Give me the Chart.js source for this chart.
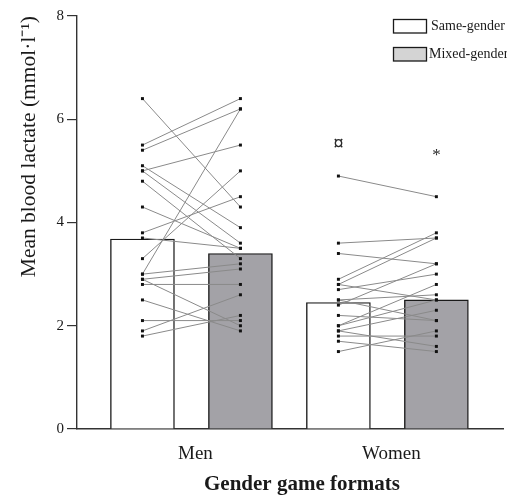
<!DOCTYPE html>
<html>
<head>
<meta charset="utf-8">
<script src="https://cdn.jsdelivr.net/npm/chart.js@4/dist/chart.umd.min.js"></script>
<style>
  html, body { margin: 0; padding: 0; background: #ffffff; }
  #wrap { position: relative; width: 507px; height: 496px; }
</style>
</head>
<body>
<div id="wrap"><canvas id="chart"></canvas></div>
<script>
// Game formats on the x axis
const categories = ['Men', 'Women'];

// Group means (mmol·l⁻¹)
const meanSameGender  = [3.68, 2.45];
const meanMixedGender = [3.40, 2.50];

// Individual players: same-gender value paired with mixed-gender value (same index)
const menSame    = [6.4, 5.5, 5.4, 5.1, 5.0, 5.0, 4.8, 4.3, 3.8, 3.7, 3.3, 3.0, 2.9, 2.9, 2.8, 2.5, 2.1, 1.9, 1.8, 3.0];
const menMixed   = [4.3, 6.4, 6.2, 3.9, 5.5, 3.6, 3.3, 3.5, 4.5, 3.5, 5.0, 3.2, 3.1, 2.0, 2.8, 1.9, 2.1, 2.6, 2.2, 6.2];
const womenSame  = [4.9, 3.6, 3.4, 2.9, 2.8, 2.8, 2.7, 2.5, 2.4, 2.5, 2.2, 2.0, 1.9, 1.8, 1.9, 1.7, 1.5, 2.0];
const womenMixed = [4.5, 3.7, 3.2, 3.8, 2.5, 3.7, 3.0, 2.1, 3.2, 2.6, 2.1, 2.8, 2.3, 1.8, 1.6, 1.5, 1.9, 2.5];

// Y-axis ticks
const yTicks = [0, 2, 4, 6, 8];

// Significance markers: symbol, category index, series ('same' | 'mixed'), height in axis units
const markers = [
  { text: '¤', cat: 1, series: 'same',  y: 5.5 },
  { text: '*', cat: 1, series: 'mixed', y: 5.3 }
];

const seriesNames = ['Same-gender', 'Mixed-gender'];
const xTitle = 'Gender game formats';

// ---- styling / layout ----
const SERIF = "'Liberation Serif', 'Times New Roman', serif";
const SHIFT = 0.25;                 // half distance between paired bars, in category units
const BAR_FILL_MIXED = '#a3a2a7';
const LEGEND_FILL_MIXED = '#d4d4d4';
const INK = '#1a1a1a';

Chart.defaults.font.family = SERIF;
Chart.defaults.color = INK;

const xOf = (cat, series) => cat + 1 + (series === 'same' ? -SHIFT : SHIFT);

const barSets = [
  {
    type: 'bar',
    label: seriesNames[0],
    data: meanSameGender.map((v, i) => ({ x: xOf(i, 'same'), y: v })),
    backgroundColor: '#ffffff',
    legendFill: '#ffffff',
    borderColor: INK,
    borderWidth: 1.4,
    order: 2
  },
  {
    type: 'bar',
    label: seriesNames[1],
    data: meanMixedGender.map((v, i) => ({ x: xOf(i, 'mixed'), y: v })),
    backgroundColor: BAR_FILL_MIXED,
    legendFill: LEGEND_FILL_MIXED,
    borderColor: INK,
    borderWidth: 1.4,
    order: 2
  }
];

// One thin line per player joining the two formats
const pairSets = [];
[[menSame, menMixed], [womenSame, womenMixed]].forEach(([a, b], cat) => {
  a.forEach((v, k) => {
    pairSets.push({
      type: 'line',
      label: '',
      isPair: true,
      data: [{ x: xOf(cat, 'same'), y: v }, { x: xOf(cat, 'mixed'), y: b[k] }],
      borderColor: '#8a8a8a',
      borderWidth: 1,
      pointStyle: 'rect',
      pointRadius: 2.1,
      pointBackgroundColor: '#111111',
      pointBorderWidth: 0,
      fill: false,
      tension: 0,
      order: 1
    });
  });
});

// Legend box in the upper right corner
const legendBox = {
  id: 'legendBox',
  afterDraw(chart) {
    const ctx = chart.ctx;
    ctx.save();
    ctx.font = '14px ' + SERIF;
    ctx.textBaseline = 'middle';
    ctx.textAlign = 'left';
    chart.data.datasets.filter(d => !d.isPair).forEach((d, i) => {
      const top = 19.5 + i * 28;
      ctx.fillStyle = d.legendFill;
      ctx.fillRect(393.5, top, 33, 13.5);
      ctx.strokeStyle = INK;
      ctx.lineWidth = 1.3;
      ctx.strokeRect(393.5, top, 33, 13.5);
      ctx.fillStyle = INK;
      ctx.fillText(d.label, 431 - i * 2, top + 7);
    });
    ctx.restore();
  }
};

// Significance symbols above the bars
const markerText = {
  id: 'markerText',
  afterDatasetsDraw(chart) {
    const ctx = chart.ctx;
    const xs = chart.scales.x, ys = chart.scales.y;
    ctx.save();
    ctx.fillStyle = '#2a2a2a';
    ctx.textAlign = 'center';
    ctx.textBaseline = 'middle';
    markers.forEach(m => {
      ctx.font = (m.text === '*' ? '17px ' : 'bold 20px ') + SERIF;
      ctx.fillText(m.text, xs.getPixelForValue(xOf(m.cat, m.series)), ys.getPixelForValue(m.y));
    });
    ctx.restore();
  }
};

// Bold axis caption under the category labels
const xCaption = {
  id: 'xCaption',
  afterDraw(chart) {
    const ctx = chart.ctx;
    const a = chart.chartArea;
    ctx.save();
    ctx.font = 'bold 21px ' + SERIF;
    ctx.fillStyle = INK;
    ctx.textAlign = 'center';
    ctx.textBaseline = 'middle';
    ctx.fillText(xTitle, (a.left + a.right) / 2 + 12, chart.height - 11);
    ctx.restore();
  }
};

new Chart(document.getElementById('chart'), {
  data: { datasets: [...barSets, ...pairSets] },
  options: {
    responsive: true,
    maintainAspectRatio: false,
    animation: false,
    events: [],
    layout: { padding: { top: 16, right: 0, bottom: 0, left: 0 } },
    datasets: {
      bar: { grouped: false, barThickness: 64, borderSkipped: 'start' }
    },
    plugins: {
      legend: { display: false },
      tooltip: { enabled: false }
    },
    scales: {
      x: {
        type: 'linear',
        offset: false,
        bounds: 'data',
        min: 0.416,
        max: 2.59,
        afterBuildTicks(scale) {
          scale.ticks = categories.map((c, i) => ({ value: i + 1 }));
        },
        afterFit(scale) { scale.height = 67; },
        ticks: {
          padding: 14,
          labelOffset: 4,
          font: { size: 19 },
          color: INK,
          callback: (value, index) => categories[index]
        },
        grid: { display: false, drawTicks: false },
        border: { display: true, color: '#333333', width: 1.4 },
        title: { display: false }
      },
      y: {
        type: 'linear',
        min: 0,
        max: 8,
        afterBuildTicks(scale) {
          scale.ticks = yTicks.map(v => ({ value: v }));
        },
        afterFit(scale) { scale.width = 77; },
        ticks: {
          padding: 3,
          font: { size: 15 },
          color: INK
        },
        grid: {
          display: true,
          drawOnChartArea: false,
          drawTicks: true,
          tickLength: 10,
          color: '#333333',
          lineWidth: 1.2
        },
        border: { display: true, color: '#333333', width: 1.4 },
        title: {
          display: true,
          text: 'Mean blood lactate (mmol·l⁻¹)',
          align: 'end',
          font: { size: 21.5 },
          color: INK,
          padding: { top: 16, bottom: 0 }
        }
      }
    }
  },
  plugins: [legendBox, markerText, xCaption]
});
</script>
</body>
</html>
